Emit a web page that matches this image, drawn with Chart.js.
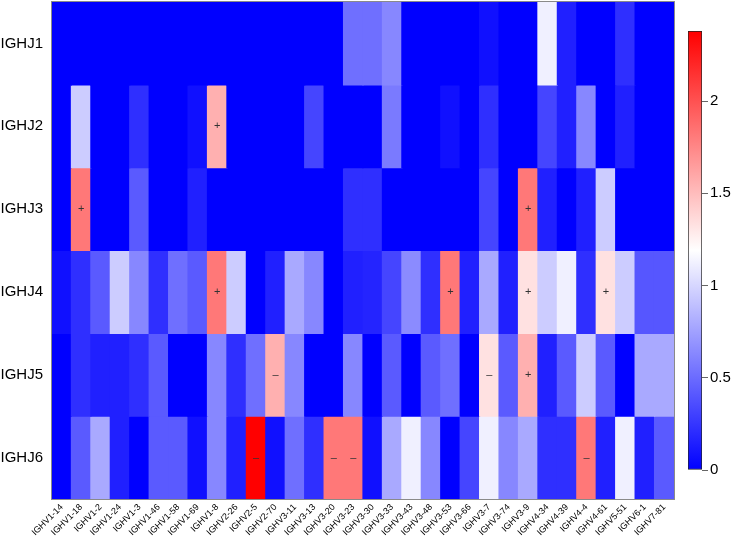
<!DOCTYPE html>
<html>
<head>
<meta charset="utf-8">
<script src="https://cdn.jsdelivr.net/npm/chart.js@4/dist/chart.umd.min.js"></script>
<style>
  html, body { margin: 0; padding: 0; background: #ffffff; }
  #wrap { position: relative; width: 738px; height: 536px; }
  #main { position: absolute; left: 0; top: 0; }
  #bar { position: absolute; left: 680px; top: 0; }
</style>
</head>
<body>
<div id="wrap">
  <canvas id="main" width="738" height="536"></canvas>
  <canvas id="bar" width="58" height="536"></canvas>
</div>
<script>
// ---------- data ----------
const rowLabels = ['IGHJ1', 'IGHJ2', 'IGHJ3', 'IGHJ4', 'IGHJ5', 'IGHJ6'];
const colLabels = ['IGHV1-14','IGHV1-18','IGHV1-2','IGHV1-24','IGHV1-3','IGHV1-46','IGHV1-58','IGHV1-69',
  'IGHV1-8','IGHV2-26','IGHV2-5','IGHV2-70','IGHV3-11','IGHV3-13','IGHV3-20','IGHV3-23','IGHV3-30',
  'IGHV3-33','IGHV3-43','IGHV3-48','IGHV3-53','IGHV3-66','IGHV3-7','IGHV3-74','IGHV3-9','IGHV4-34',
  'IGHV4-39','IGHV4-4','IGHV4-61','IGHV5-51','IGHV6-1','IGHV7-81'];

const IGHJ1 = [0,0,0,0,0,0,0,0,0,0,0,0,0,0,0,0.52,0.52,0.63,0,0,0,0,0.075,0,0,1.12,0.15,0,0,0.22,0,0];
const IGHJ2 = [0,0.95,0,0,0.22,0,0,0.075,1.56,0,0,0,0,0.32,0,0,0,0.57,0,0,0.075,0,0.22,0,0,0.32,0.15,0.63,0,0.15,0,0];
const IGHJ3 = [0,1.82,0,0,0.42,0,0,0.15,0,0,0,0,0,0,0,0.22,0.22,0,0,0,0,0,0.32,0,1.82,0.15,0,0.15,0.95,0,0,0];
const IGHJ4 = [0.075,0.22,0.42,0.95,0.63,0.22,0.52,0.42,1.82,0.95,0,0.15,0.79,0.63,0,0.15,0.17,0.32,0.65,0.22,1.82,0.15,0.79,0.15,1.33,0.95,1.12,0.22,1.33,0.95,0.4,0.4];
const IGHJ5 = [0,0.22,0.15,0.15,0.22,0.42,0,0,0.63,0.22,0.52,1.56,0.63,0,0,0.63,0,0.42,0,0.42,0.52,0,1.33,0.42,1.56,0.15,0.42,0.95,0.42,0,0.79,0.79];
const IGHJ6 = [0,0.42,0.79,0.15,0,0.42,0.42,0.075,0.63,0.15,2.38,0.075,0.52,0.22,1.82,1.82,0.075,0.79,1.12,0.63,0,0.32,1.12,0.63,0.79,0.22,0.22,1.82,0.15,1.12,0.15,0.42];

// significance marks: [row, column, sign]
const marks = [
  ['IGHJ2','IGHV1-8','+'],
  ['IGHJ3','IGHV1-18','+'], ['IGHJ3','IGHV3-9','+'],
  ['IGHJ4','IGHV1-8','+'], ['IGHJ4','IGHV3-53','+'], ['IGHJ4','IGHV3-9','+'], ['IGHJ4','IGHV4-61','+'],
  ['IGHJ5','IGHV2-70','\u2013'], ['IGHJ5','IGHV3-7','\u2013'], ['IGHJ5','IGHV3-9','+'],
  ['IGHJ6','IGHV2-5','\u2013'], ['IGHJ6','IGHV3-20','\u2013'], ['IGHJ6','IGHV3-23','\u2013'], ['IGHJ6','IGHV4-4','\u2013']
];

const colorMax = 2.38;
const colorTicks = [0, 0.5, 1, 1.5, 2];

// ---------- helpers ----------
const rowValues = [IGHJ1, IGHJ2, IGHJ3, IGHJ4, IGHJ5, IGHJ6];
function colorFor(v) {
  const mid = colorMax / 2;
  let r, g, b;
  if (v <= mid) {
    const t = Math.max(0, v / mid);
    r = g = Math.round(255 * t); b = 255;
  } else {
    const t = Math.min(1, (v - mid) / mid);
    r = 255; g = b = Math.round(255 * (1 - t));
  }
  return 'rgb(' + r + ',' + g + ',' + b + ')';
}

const FONT = '"Liberation Sans", Arial, Helvetica, sans-serif';

const datasets = rowLabels.map((name, i) => ({
  label: name,
  data: colLabels.map(() => 1),
  values: rowValues[i],
  backgroundColor: rowValues[i].map(colorFor),
  borderWidth: 0,
  inflateAmount: 0.6,
  barPercentage: 1,
  categoryPercentage: 1,
  stack: 'cells'
}));

const frameAndMarks = {
  id: 'frameAndMarks',
  afterDatasetsDraw(chart) {
    const ctx = chart.ctx;
    const xs = chart.scales.x, ys = chart.scales.y;
    ctx.save();
    ctx.fillStyle = '#333333';
    ctx.font = '11px ' + FONT;
    ctx.textAlign = 'center';
    ctx.textBaseline = 'middle';
    marks.forEach(([row, col, s]) => {
      const r = rowLabels.indexOf(row);
      const c = colLabels.indexOf(col);
      const x = xs.getPixelForValue(c);
      const y = ys.getPixelForValue(r + 0.5);
      ctx.fillText(s, x, y);
    });
    const a = chart.chartArea;
    ctx.strokeStyle = '#8a8a8a';
    ctx.lineWidth = 1;
    ctx.strokeRect(a.left - 0.5, a.top - 0.5, a.right - a.left + 1, a.bottom - a.top + 1);
    ctx.restore();
  }
};

new Chart(document.getElementById('main'), {
  type: 'bar',
  data: { labels: colLabels, datasets },
  options: {
    responsive: false,
    animation: false,
    layout: { padding: { left: 0, top: 2, right: 64, bottom: 0 } },
    plugins: { legend: { display: false }, tooltip: { enabled: false } },
    scales: {
      x: {
        stacked: true,
        grid: { display: false, drawTicks: false },
        border: { display: false },
        ticks: {
          autoSkip: false, maxRotation: 45, minRotation: 45, padding: 3,
          color: '#000', font: { family: FONT, size: 9 }
        },
        afterFit(s) { s.height = 37; s.paddingLeft = 0; s.paddingRight = 0; }
      },
      y: {
        stacked: true,
        reverse: true,
        min: 0, max: rowLabels.length,
        grid: { display: false, drawTicks: false },
        border: { display: false },
        afterBuildTicks(axis) { axis.ticks = rowLabels.map((_, i) => ({ value: i + 0.5 })); },
        ticks: {
          padding: 9, color: '#000', font: { family: FONT, size: 15 },
          callback: (v) => rowLabels[Math.floor(v)]
        },
        afterFit(s) { s.width = 52; s.paddingTop = 0; s.paddingBottom = 0; }
      }
    }
  },
  plugins: [frameAndMarks]
});

// ---------- colour bar ----------
new Chart(document.getElementById('bar'), {
  type: 'bar',
  data: {
    labels: ['scale'],
    datasets: [{
      data: [[0, colorMax]],
      backgroundColor(c) {
        const chart = c.chart;
        if (!chart.chartArea) return '#ffffff';
        const y = chart.scales.y;
        const g = chart.ctx.createLinearGradient(0, y.getPixelForValue(0), 0, y.getPixelForValue(colorMax));
        g.addColorStop(0, 'rgb(0,0,255)');
        g.addColorStop(0.5, 'rgb(255,255,255)');
        g.addColorStop(1, 'rgb(255,0,0)');
        return g;
      },
      borderColor: '#222222',
      borderWidth: 1,
      borderSkipped: false,
      barPercentage: 1,
      categoryPercentage: 1
    }]
  },
  options: {
    responsive: false,
    animation: false,
    layout: { padding: { left: 8, top: 31, right: 0, bottom: 66 } },
    plugins: { legend: { display: false }, tooltip: { enabled: false } },
    scales: {
      x: { display: false },
      y: {
        position: 'right',
        min: 0, max: colorMax,
        afterBuildTicks(axis) { axis.ticks = colorTicks.map(v => ({ value: v })); },
        grid: { drawOnChartArea: false, drawTicks: true, tickLength: 6, color: '#666666', lineWidth: 1 },
        border: { display: false },
        ticks: { padding: 2, color: '#000', font: { family: FONT, size: 15 }, callback: (v) => String(v) },
        afterFit(s) { s.width = 36; s.paddingTop = 0; s.paddingBottom = 0; }
      }
    }
  }
});
</script>
</body>
</html>
